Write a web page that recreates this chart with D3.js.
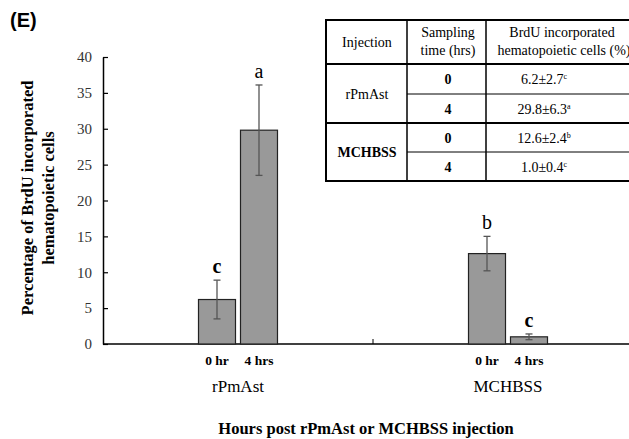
<!DOCTYPE html>
<html>
<head>
<meta charset="utf-8">
<script src="https://cdn.jsdelivr.net/npm/d3@7"></script>
<style>
    body { margin: 0; background: #fff; }
    svg { display: block; }
    svg text { font-family: "Liberation Serif", "Times New Roman", serif; }
</style>
</head>
<body>
<svg id="chart" width="629" height="439"></svg>
<script>
// data
var groups = ["rPmAst", "MCHBSS"];
var times = ["0 hr", "4 hrs"];
var timeValues = ["0", "4"];
var means = [[6.2, 29.8], [12.6, 1.0]];
var errors = [[2.7, 6.3], [2.4, 0.4]];
var letters = [["c", "a"], ["b", "c"]];
var yTicks = [0, 5, 10, 15, 20, 25, 30, 35, 40];

var svg = d3.select("#chart"),
    margin = { top: 57, left: 103, bottom: 95 },
    plotRight = 643,
    height = +svg.attr("height") - margin.top - margin.bottom;

var x = d3.scaleBand().domain(groups).range([margin.left, plotRight]).padding(0);
var xi = d3.scaleBand().domain(times).range([0, x.bandwidth()])
    .paddingInner(5 / 42).paddingOuter(2.274);
var y = d3.scaleLinear().domain([0, 40]).range([margin.top + height, margin.top]);

var d = [];
for (i = 0; i < groups.length; i++) {
    for (j = 0; j < times.length; j++) {
        d.push({ group: groups[i], time: times[j], value: means[i][j], err: errors[i][j], letter: letters[i][j] });
    }
}

// panel label
svg.append("text")
    .attr("x", 10).attr("y", 27)
    .style("font-family", "'Liberation Sans', Arial, sans-serif")
    .style("font-weight", "bold").style("font-size", "20px")
    .text("(E)");

// y axis
var yAxis = svg.append("g")
    .attr("transform", "translate(" + margin.left + ",0)")
    .call(d3.axisLeft(y).tickValues(yTicks).tickSizeInner(-5).tickSizeOuter(0).tickPadding(11));
yAxis.selectAll("text").style("font-size", "15px").attr("fill", "#333");
yAxis.selectAll("line").attr("stroke", "#000").attr("stroke-width", 1.2);
yAxis.select(".domain").attr("stroke", "#000").attr("stroke-width", 1.5);

// x axis line and category separator
svg.append("line")
    .attr("x1", margin.left).attr("x2", plotRight)
    .attr("y1", y(0)).attr("y2", y(0))
    .attr("stroke", "#000").attr("stroke-width", 1.5);
svg.selectAll(".sep")
    .data(groups.slice(1))
    .enter().append("line")
    .attr("class", "sep")
    .attr("x1", function (g) { return x(g); }).attr("x2", function (g) { return x(g); })
    .attr("y1", y(0)).attr("y2", y(0) - 5)
    .attr("stroke", "#000").attr("stroke-width", 1);

// bars
svg.selectAll(".bar")
    .data(d)
    .enter().append("rect")
    .attr("class", "bar")
    .attr("x", function (d) { return x(d.group) + xi(d.time); })
    .attr("y", function (d) { return y(d.value); })
    .attr("width", xi.bandwidth())
    .attr("height", function (d) { return y(0) - y(d.value); })
    .attr("fill", "#999999")
    .attr("stroke", "#222")
    .attr("stroke-width", 1.2);

// error bars
var cx = function (d) { return x(d.group) + xi(d.time) + xi.bandwidth() / 2; };
var eb = svg.selectAll(".err").data(d).enter().append("g").attr("class", "err")
    .attr("stroke", "#555").attr("stroke-width", 1.3);
eb.append("line")
    .attr("x1", cx).attr("x2", cx)
    .attr("y1", function (d) { return y(d.value - d.err); })
    .attr("y2", function (d) { return y(d.value + d.err); });
eb.append("line")
    .attr("x1", function (d) { return cx(d) - 3.5; }).attr("x2", function (d) { return cx(d) + 3.5; })
    .attr("y1", function (d) { return y(d.value + d.err); })
    .attr("y2", function (d) { return y(d.value + d.err); });
eb.append("line")
    .attr("x1", function (d) { return cx(d) - 3.5; }).attr("x2", function (d) { return cx(d) + 3.5; })
    .attr("y1", function (d) { return y(d.value - d.err); })
    .attr("y2", function (d) { return y(d.value - d.err); });

// significance letters
svg.selectAll(".letter")
    .data(d)
    .enter().append("text")
    .attr("class", "letter")
    .attr("x", cx)
    .attr("y", function (d) { return y(d.value + d.err) - 7; })
    .attr("text-anchor", "middle")
    .style("font-size", "20px")
    .style("font-weight", function (d) { return d.letter == "c" ? "bold" : "normal"; })
    .text(function (d) { return d.letter; });

// time labels
svg.selectAll(".tlab")
    .data(d)
    .enter().append("text")
    .attr("class", "tlab")
    .attr("x", cx)
    .attr("y", y(0) + 21)
    .attr("text-anchor", "middle")
    .style("font-size", "13.5px").style("font-weight", "bold")
    .text(function (d) { return d.time; });

// group labels
svg.selectAll(".glab")
    .data(groups)
    .enter().append("text")
    .attr("class", "glab")
    .attr("x", function (g) { return x(g) + x.bandwidth() / 2; })
    .attr("y", y(0) + 48)
    .attr("text-anchor", "middle")
    .style("font-size", "17px")
    .text(function (g) { return g; });

// axis titles
svg.append("text")
    .attr("x", 366).attr("y", 434)
    .attr("text-anchor", "middle")
    .style("font-size", "16.5px").style("font-weight", "bold")
    .text("Hours post rPmAst or MCHBSS injection");

var yt = svg.append("text")
    .attr("transform", "translate(33,198) rotate(-90)")
    .attr("text-anchor", "middle")
    .style("font-size", "16.5px").style("font-weight", "bold");
yt.append("tspan").attr("x", 0).attr("y", 0).text("Percentage of BrdU incorporated");
yt.append("tspan").attr("x", 0).attr("y", 21).text("hematopoietic cells");

// inset table
var tLeft = 326, tTop = 20, cols = [326, 407, 486, 680], rows = [20, 64, 94, 123, 152, 181];
var tab = svg.append("g").attr("class", "table");
tab.append("rect")
    .attr("x", tLeft).attr("y", tTop)
    .attr("width", cols[3] - tLeft).attr("height", rows[5] - tTop)
    .attr("fill", "#fff").attr("stroke", "#000").attr("stroke-width", 2);
[1, 2].forEach(function (c) {
    tab.append("line").attr("x1", cols[c]).attr("x2", cols[c]).attr("y1", rows[0]).attr("y2", rows[5])
        .attr("stroke", "#000").attr("stroke-width", 1.5);
});
[1, 3].forEach(function (r) {
    tab.append("line").attr("x1", cols[0]).attr("x2", cols[3]).attr("y1", rows[r]).attr("y2", rows[r])
        .attr("stroke", "#000").attr("stroke-width", 2);
});
[2, 4].forEach(function (r) {
    tab.append("line").attr("x1", cols[1]).attr("x2", cols[3]).attr("y1", rows[r]).attr("y2", rows[r])
        .attr("stroke", "#000").attr("stroke-width", 1);
});

function cell(x0, yb, t) {
    return tab.append("text").attr("x", x0).attr("y", yb).attr("text-anchor", "middle")
        .style("font-size", "14px").text(t);
}
cell(367, 47, "Injection");
cell(448, 37, "Sampling");
cell(448, 55, "time (hrs)");
cell(562, 37, "BrdU incorporated");
cell(564, 55, "hematopoietic cells (%)");

for (i = 0; i < groups.length; i++) {
    cell(367, (rows[1 + 2 * i] + rows[3 + 2 * i]) / 2 + 5, groups[i])
        .style("font-weight", i == 1 ? "bold" : "normal");
    for (j = 0; j < times.length; j++) {
        var r = 1 + 2 * i + j;
        var yb = (rows[r] + rows[r + 1]) / 2 + 5;
        cell(448, yb, timeValues[j]).style("font-weight", "bold");
        var vt = cell(544, yb, means[i][j].toFixed(1) + "\u00B1" + errors[i][j].toFixed(1));
        vt.append("tspan").attr("dy", -5).style("font-size", "8px").text(letters[i][j]);
    }
}
</script>
</body>
</html>
